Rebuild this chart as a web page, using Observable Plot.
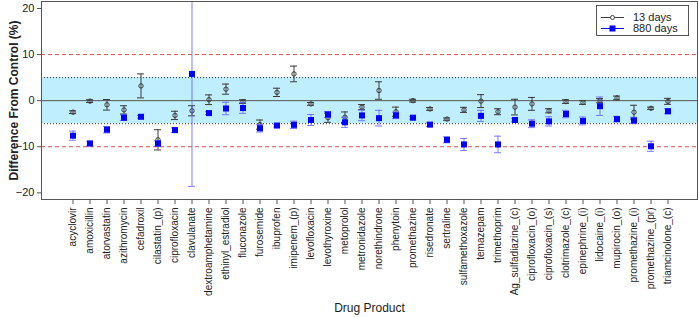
<!DOCTYPE html>
<html><head><meta charset="utf-8">
<script src="https://cdn.jsdelivr.net/npm/d3@7"></script>
<script src="https://cdn.jsdelivr.net/npm/@observablehq/plot@0.6"></script>
<style>
body{margin:0;background:#fff;font-family:"Liberation Sans",Arial,sans-serif;}
#wrap{position:relative;width:699px;height:317px;}
#legend{position:absolute;left:596px;top:5px;width:91px;height:29px;border:1px solid #555;background:#fff;font-size:11px;color:#222;}
#legend .row{position:absolute;left:0;height:11px;}
#legend svg{position:absolute;left:3px;top:0;}
#legend span{position:absolute;left:36px;top:-1px;white-space:nowrap;}
</style></head><body><div id="wrap"><div id="legend"></div></div>
<script>
const drugs = ["acyclovir","amoxicillin","atorvastatin","azithromycin","cefadroxil","cilastatin_(p)","ciprofloxacin","clavulanate","dextroamphetamine","ethinyl_estradiol","fluconazole","furosemide","ibuprofen","imipenem_(p)","levofloxacin","levothyroxine","metoprolol","metronidazole","norethindrone","phenytoin","promethazine","risedronate","sertraline","sulfamethoxazole","temazepam","trimethoprim","Ag_sulfadiazine_(c)","ciprofloxacin_(o)","ciprofloxacin_(s)","clotrimazole_(c)","epinephrine_(i)","lidocaine_(i)","mupirocin_(o)","promethazine_(i)","promethazine_(pr)","triamcinolone_(c)"];
const mean13 = [-2.5,-0.1,-0.9,-2.0,3.2,-8.5,-3.2,-2.2,0.2,2.5,-0.2,-5.2,1.8,5.8,-0.7,-3.7,-3.6,-1.4,2.2,-2.4,0.0,-1.8,-4.0,-2.0,-0.1,-2.4,-1.4,-0.7,-2.2,-0.2,-0.4,0.0,0.6,-2.5,-1.65,-0.15];
const err13  = [0.3,0.3,1.15,0.9,2.6,2.2,0.9,1.1,1.05,1.1,0.4,1.0,0.9,1.7,0.3,1.0,1.15,0.55,1.9,1.0,0.3,0.3,0.25,0.55,1.4,0.65,1.7,1.4,0.45,0.4,0.4,0.45,0.4,1.5,0.25,0.65];
const mean880 = [-7.6,-9.3,-6.3,-3.7,-3.5,-9.3,-6.4,5.8,-2.7,-1.7,-1.6,-6.0,-5.4,-5.25,-4.2,-3.0,-4.7,-3.2,-3.8,-3.2,-3.7,-5.2,-8.5,-9.5,-3.3,-9.5,-4.2,-5.0,-4.5,-2.9,-4.4,-1.2,-4.0,-4.3,-9.9,-2.3];
const err880  = [1.0,0.5,0.7,0.6,0.3,0.6,0.5,24.4,0.3,1.35,1.15,0.8,0.3,0.8,1.2,0.65,1.1,1.15,1.7,0.7,0.3,0.4,0.65,1.3,1.2,1.8,0.35,0.85,1.0,0.8,0.85,2.0,0.6,0.7,1.1,0.55];
const yTicks = [-20,-10,0,10,20];
const equivBand = [-5,5];
const redLimits = [-10,10];
const zeroLine = [0];
const seriesNames = ["13 days","880 days"];

const rows = drugs.map((d,i)=>({drug:d,m13:mean13[i],e13:err13[i],m880:mean880[i],e880:err880[i]}));
const c13 = "#3a3a3a", c880 = "#0000ff", c880bar = "#5a5aff";

const chart = Plot.plot({
  width: 699, height: 317,
  marginLeft: 41, marginRight: 2, marginTop: 1, marginBottom: 118,
  style: {fontFamily: '"Liberation Sans", Arial, sans-serif', background: "#fff", color: "#222"},
  x: {type: "band", domain: drugs, paddingInner: 0.6, paddingOuter: 1.22, align: 0.52},
  y: {domain: [-21.45, 21.52]},
  marks: [
    Plot.rect([equivBand], {y1: d => d[0], y2: d => d[1], fill: "#bfefff"}),
    Plot.ruleY(equivBand, {stroke: "#333", strokeDasharray: "1,2", strokeWidth: 1}),
    Plot.ruleY(redLimits, {stroke: "#d9534f", strokeDasharray: "4,3", strokeWidth: 1}),
    Plot.ruleY(zeroLine, {stroke: "#555", strokeWidth: 1}),
    // 13 days
    Plot.ruleX(rows, {x: "drug", y1: d => d.m13 - d.e13, y2: d => d.m13 + d.e13, stroke: c13, clip: true}),
    Plot.tickY(rows, {x: "drug", y: d => d.m13 - d.e13, stroke: c13, clip: true}),
    Plot.tickY(rows, {x: "drug", y: d => d.m13 + d.e13, stroke: c13, clip: true}),
    Plot.dot(rows, {x: "drug", y: "m13", r: 2.2, stroke: c13, fill: "none", strokeWidth: 1}),
    // 880 days
    Plot.ruleX(rows, {x: "drug", y1: d => d.m880 - d.e880, y2: d => d.m880 + d.e880, stroke: c880bar, strokeOpacity: 0.8, clip: true}),
    Plot.tickY(rows, {x: "drug", y: d => d.m880 - d.e880, stroke: c880bar, strokeOpacity: 0.8, clip: true}),
    Plot.tickY(rows, {x: "drug", y: d => d.m880 + d.e880, stroke: c880bar, strokeOpacity: 0.8, clip: true}),
    Plot.dot(rows, {x: "drug", y: "m880", symbol: "square", r: 3.4, fill: c880, stroke: "none"}),
    Plot.frame({stroke: "#555"}),
    Plot.axisY({ticks: yTicks, tickSize: 4, tickPadding: 3, fontSize: 11, stroke: "#555",
      label: "Difference From Control (%)", labelAnchor: "center", labelArrow: "none", labelOffset: 32}),
    Plot.axisX({tickSize: 5, tickPadding: 3, tickRotate: -90, fontSize: 10, stroke: "#555",
      label: "Drug Product", labelAnchor: "center", labelArrow: "none", labelOffset: 112})
  ]
});
document.getElementById("wrap").prepend(chart);
d3.select(chart).selectAll('[aria-label="y-axis label"] text').style("font-weight", "bold").style("font-size", "12px");
d3.select(chart).selectAll('[aria-label="x-axis label"] text').style("font-size", "12px");

// legend
const leg = d3.select("#legend");
seriesNames.forEach((name, i) => {
  const row = leg.append("div").attr("class", "row").style("top", (6 + i * 11) + "px").style("width", "90px");
  const s = row.append("svg").attr("width", 26).attr("height", 11);
  s.append("line").attr("x1", 1).attr("x2", 24).attr("y1", 5.5).attr("y2", 5.5)
    .attr("stroke", i === 0 ? c13 : c880).attr("stroke-width", 1);
  if (i === 0) s.append("circle").attr("cx", 12.5).attr("cy", 5.5).attr("r", 2).attr("fill", "#fff").attr("stroke", c13);
  else s.append("rect").attr("x", 9.5).attr("y", 2.5).attr("width", 6).attr("height", 6).attr("fill", c880);
  row.append("span").text(name);
});
</script></body></html>
